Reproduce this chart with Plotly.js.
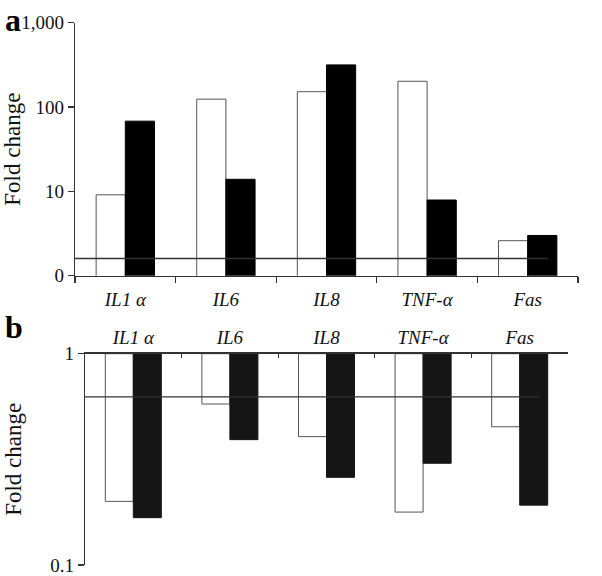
<!DOCTYPE html>
<html>
<head>
<meta charset="utf-8">
<script src="https://cdn.plot.ly/plotly-3.0.1.min.js"></script>
<style>html,body{margin:0;padding:0;background:#fff}#chart{width:602px;height:576px}</style>
</head>
<body>
<div id="chart"></div>
<script>
// Categories (gene names)
const genes = ['<i>IL1 α</i>', '<i>IL6</i>', '<i>IL8</i>', '<i>TNF-α</i>', '<i>Fas</i>'];
// Panel a: fold change (up-regulation), log scale
const upWhite = [9.1, 124, 152, 202, 2.6];
const upBlack = [68, 13.9, 316, 7.9, 3.0];
// Panel b: fold change (down-regulation), log scale
const downWhite = [0.20, 0.578, 0.405, 0.178, 0.451];
const downBlack = [0.1675, 0.392, 0.26, 0.303, 0.192];
// Threshold lines
const upThreshold = 1.6;
const downThreshold = 0.625;
// Tick labels
const aTickVals = [1, 10, 100, 1000];
const aTickText = ['0', '10', '100', '1,000'];
const bTickVals = [0.1, 1];
const bTickText = ['0.1', '1'];

const font = '"Liberation Serif", "Times New Roman", Times, serif';
const lineCol = '#333';

const traces = [
  {type: 'bar', x: genes, y: upWhite, xaxis: 'x', yaxis: 'y',
   marker: {color: '#fff', line: {color: '#555', width: 1}}},
  {type: 'bar', x: genes, y: upBlack, xaxis: 'x', yaxis: 'y',
   marker: {color: '#000', line: {color: '#000', width: 1}}},
  {type: 'bar', x: genes, y: downWhite.map(v => v - 1), base: 1, xaxis: 'x2', yaxis: 'y2',
   marker: {color: '#fff', line: {color: '#555', width: 1}}},
  {type: 'bar', x: genes, y: downBlack.map(v => v - 1), base: 1, xaxis: 'x2', yaxis: 'y2',
   marker: {color: '#151515', line: {color: '#151515', width: 1}}}
];

const layout = {
  width: 602, height: 576,
  margin: {l: 0, r: 0, t: 0, b: 0},
  paper_bgcolor: '#fff', plot_bgcolor: 'rgba(0,0,0,0)',
  showlegend: false,
  barmode: 'group', bargap: 0.42, bargroupgap: 0,
  font: {family: font, size: 17, color: '#111'},
  xaxis: {
    domain: [75/602, 578/602], anchor: 'y', type: 'category', range: [-0.5, 4.5],
    showline: true, linecolor: lineCol, linewidth: 1.3,
    ticks: 'outside', tickson: 'boundaries', ticklen: 6, tickcolor: lineCol, tickwidth: 1.3,
    tickfont: {family: font, size: 19}, ticklabelstandoff: 6,
    showgrid: false, zeroline: false, fixedrange: true
  },
  yaxis: {
    domain: [1 - 275.7/576, 1 - 22.7/576], anchor: 'x', type: 'log', range: [0, 3],
    showline: true, linecolor: lineCol, linewidth: 1.3,
    ticks: 'outside', ticklen: 6, tickcolor: lineCol, tickwidth: 1.3,
    tickvals: aTickVals, ticktext: aTickText,
    tickfont: {family: font, size: 19},
    showgrid: false, zeroline: false,
    title: {text: 'Fold change', font: {family: font, size: 23}, standoff: 10}
  },
  xaxis2: {
    domain: [85/602, 568/602], anchor: 'y2', type: 'category', range: [-0.5, 4.5],
    side: 'top',
    showline: true, linecolor: lineCol, linewidth: 1.3,
    ticks: 'inside', tickson: 'boundaries', ticklen: 4, tickcolor: lineCol, tickwidth: 1.3,
    tickfont: {family: font, size: 19}, ticklabelstandoff: 1,
    showgrid: false, zeroline: false
  },
  yaxis2: {
    domain: [1 - 565/576, 1 - 353.7/576], anchor: 'x2', type: 'log', range: [-1, 0],
    showline: true, linecolor: lineCol, linewidth: 1.3,
    ticks: 'outside', ticklen: 6, tickcolor: lineCol, tickwidth: 1.3,
    tickvals: bTickVals, ticktext: bTickText,
    tickfont: {family: font, size: 19},
    showgrid: false, zeroline: false,
    title: {text: 'Fold change', font: {family: font, size: 23}, standoff: 22}
  },
  shapes: [
    {type: 'line', xref: 'x', yref: 'y', x0: -0.5, x1: 4.2, y0: upThreshold, y1: upThreshold,
     line: {color: lineCol, width: 1.3}},
    {type: 'line', xref: 'x2', yref: 'y2', x0: -0.55, x1: 4.2, y0: downThreshold, y1: downThreshold,
     line: {color: lineCol, width: 1.3}}
  ],
  annotations: [
    {text: '<b>a</b>', xref: 'paper', yref: 'paper', x: 3/602, y: 1,
     xanchor: 'left', yanchor: 'top', showarrow: false, font: {family: font, size: 32, color: '#000'}},
    {text: '<b>b</b>', xref: 'paper', yref: 'paper', x: 3/602, y: 1 - 307/576,
     xanchor: 'left', yanchor: 'top', showarrow: false, font: {family: font, size: 32, color: '#000'}}
  ]
};

Plotly.newPlot('chart', traces, layout, {displayModeBar: false, staticPlot: true});
</script>
</body>
</html>
